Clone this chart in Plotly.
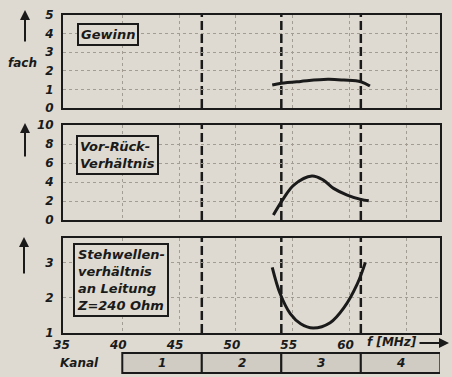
import plotly.graph_objects as go

# ---------------- data ----------------
gain_f = [53.2, 54.0, 55.7, 58.1, 59.5, 61.0, 61.8]
gain_v = [1.24, 1.33, 1.43, 1.54, 1.50, 1.41, 1.18]

vr_f = [53.3, 54.2, 55.1, 56.7, 57.7, 58.6, 59.8, 61.0, 61.7]
vr_v = [0.53, 2.28, 3.68, 4.63, 4.20, 3.33, 2.63, 2.17, 2.03]

swr_f = [53.2, 53.9, 54.8, 55.7, 56.8, 58.3, 59.5, 60.7, 61.4]
swr_v = [2.86, 2.11, 1.54, 1.26, 1.14, 1.29, 1.71, 2.40, 3.00]

channel_edges = [40, 47, 54, 61, 68]
channel_labels = ["1", "2", "3", "4"]
x_ticks = [35, 40, 45, 50, 55, 60]
grid_x = [40, 45, 50, 55, 60, 65]

panel_titles = ["Gewinn", "Vor-Rück-<br>Verhältnis",
                "Stehwellen-<br>verhältnis<br>an Leitung<br>Z=240 Ohm"]

# ---------------- style ----------------
W, H = 452, 377
BG = "#dedad1"
INK = "#1a1a1a"
GRID = "#a29c92"
FONT = dict(family="DejaVu Sans", size=12, color=INK, weight="bold", style="italic")

def py(pix):  # pixel row -> paper y
    return 1 - pix / H

def px(pix):
    return pix / W

xdom = [px(63), px(440)]
ydoms = [[py(108), py(15)], [py(220), py(125)], [py(333), py(238)]]
yranges = [[0, 5], [0, 10], [1, 3.69]]
ydticks = [1, 2, 1]
xr = [34.78, 67.97]

fig = go.Figure()
series = [(gain_f, gain_v), (vr_f, vr_v), (swr_f, swr_v)]
for i, (f, v) in enumerate(series):
    n = "" if i == 0 else str(i + 1)
    fig.add_trace(go.Scatter(x=f, y=v, mode="lines", xaxis="x" + n, yaxis="y" + n,
                             line=dict(color=INK, width=3, shape="spline", smoothing=1.0),
                             hoverinfo="skip", showlegend=False))
    fig.layout["xaxis" + n] = dict(
        domain=xdom, range=xr, anchor="y" + n, showline=True, mirror=True,
        linecolor=INK, linewidth=2, showgrid=False, zeroline=False, ticks="",
        tickvals=x_ticks, showticklabels=(i == 2), ticklabelshift=-4, automargin=False,
        minor=dict(tickvals=grid_x, showgrid=True, gridcolor=GRID, griddash="dot", gridwidth=1),
    )
    fig.layout["yaxis" + n] = dict(
        domain=ydoms[i], range=yranges[i], anchor="x" + n, showline=True, mirror=True,
        linecolor=INK, linewidth=2, showgrid=True, gridcolor=GRID, griddash="dot",
        gridwidth=1, zeroline=False, ticks="", dtick=ydticks[i], ticklabelstandoff=5,
        automargin=False,
    )
    # channel boundary dashed lines
    for e in channel_edges[1:-1]:
        fig.add_shape(type="line", xref="x" + n, yref="y" + n + " domain",
                      x0=e, x1=e, y0=0, y1=1, layer="below",
                      line=dict(color=INK, width=2.5, dash="9px,4px"))

# panel title boxes
box_pos = [(77, 23), (76, 135), (73, 243)]
for t, (bx, by) in zip(panel_titles, box_pos):
    fig.add_annotation(text=t, xref="paper", yref="paper", x=px(bx), y=py(by),
                       xanchor="left", yanchor="top", showarrow=False, align="left",
                       bordercolor=INK, borderwidth=2, borderpad=2, bgcolor=BG,
                       font=dict(FONT, size=13))

# up arrows on the y axes
for (ax_x, head, tail) in [(25, 10, 43), (25, 123, 158), (24, 237, 275)]:
    fig.add_annotation(text="", xref="paper", yref="paper", x=px(ax_x), y=py(head),
                       ax=0, ay=tail - head, showarrow=True, arrowhead=2,
                       arrowsize=1, arrowwidth=2, arrowcolor=INK)

fig.add_annotation(text="fach", xref="paper", yref="paper", x=px(39), y=py(63),
                   xanchor="right", yanchor="middle", showarrow=False, font=FONT)

# frequency axis title with arrow
fig.add_annotation(text="f [MHz]", xref="paper", yref="paper", x=px(392), y=py(342),
                   xanchor="center", yanchor="middle", showarrow=False, font=FONT)
fig.add_annotation(text="", xref="paper", yref="paper", x=px(449), y=py(343),
                   ax=-31, ay=0, showarrow=True, arrowhead=2, arrowsize=1,
                   arrowwidth=2, arrowcolor=INK)

# channel bar
for k, lab in enumerate(channel_labels):
    a, b = channel_edges[k], channel_edges[k + 1]
    fig.add_shape(type="rect", xref="x3", yref="paper", x0=a, x1=b,
                  y0=py(373), y1=py(353), fillcolor="#d0ccc3",
                  line=dict(color=INK, width=2))
    fig.add_annotation(text=lab, xref="x3", yref="paper", x=(a + b) / 2, y=py(363),
                       xanchor="center", yanchor="middle", showarrow=False, font=FONT)
fig.add_annotation(text="Kanal", xref="paper", yref="paper", x=px(79), y=py(363),
                   xanchor="center", yanchor="middle", showarrow=False, font=FONT)

fig.update_layout(width=W, height=H, margin=dict(l=0, r=0, t=0, b=0, pad=0, autoexpand=False),
                  paper_bgcolor=BG, plot_bgcolor=BG, font=FONT, showlegend=False)

fig.write_html("out.html", config={"displayModeBar": False})

# remove the browser's default page margin so the figure fills the window exactly
with open("out.html", encoding="utf-8") as fh:
    html = fh.read()
html = html.replace("<head>", "<head><style>html,body{margin:0;padding:0;overflow:hidden;background:%s}</style>" % BG, 1)
with open("out.html", "w", encoding="utf-8") as fh:
    fh.write(html)
